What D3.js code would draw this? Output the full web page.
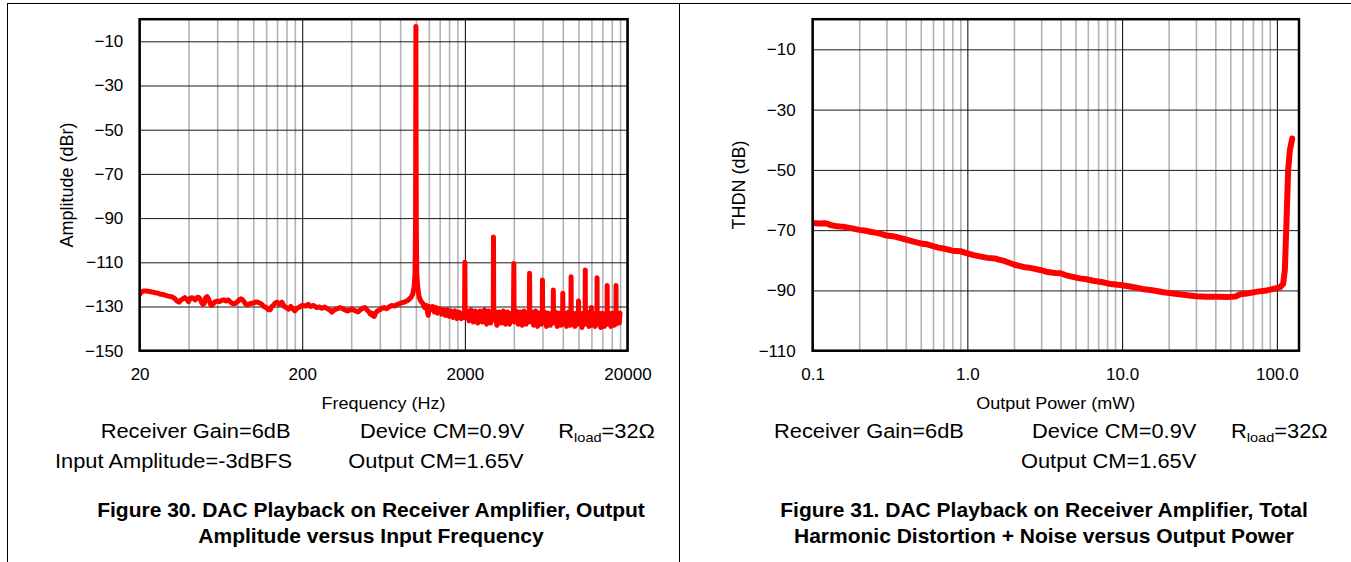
<!DOCTYPE html>
<html>
<head>
<meta charset="utf-8">
<script src="https://cdn.jsdelivr.net/npm/d3@7"></script>
<style>
  html, body { margin: 0; padding: 0; background: #fff; }
  svg { display: block; }
</style>
</head>
<body>
<svg id="chart" width="1351" height="562"></svg>
<script>
// ---------------- DATA ----------------
// Figure 30: output amplitude vs input frequency (FFT trace)
const freqHz = [
  20, 20.5, 21, 22, 23, 24, 25, 26, 27, 28, 29, 30, 31, 32, 33, 34, 35, 36, 37, 38, 39, 40,
  41, 42, 43, 44, 45, 46, 47, 48, 49, 50, 51, 52, 53, 54, 55, 56, 58, 60, 62, 64, 66, 68, 70,
  72, 74, 76, 78, 80, 82, 84, 86, 88, 90, 92, 95, 98, 100, 103, 106, 110, 113, 116, 120, 124,
  127, 130, 133, 136, 140, 145, 150, 155, 160, 165, 170, 175, 180, 185, 190, 195, 200, 210,
  218, 225, 235, 245, 255, 264, 275, 285, 295, 304, 315, 330, 340, 350, 365, 380, 395, 403,
  420, 440, 455, 470, 486, 500, 515, 525, 535, 545, 555, 565, 580, 600, 617, 640, 660, 690,
  710, 740, 770, 800, 818, 850, 880, 900, 930, 955, 975, 988, 995, 999, 1000, 1001, 1005,
  1012, 1025, 1045, 1070, 1100,
  1130, 1160, 1190, 1210, 1240, 1270, 1300, 1330, 1360, 1400, 1440, 1480, 1520, 1560, 1600,
  1640, 1690, 1740, 1790, 1840, 1900, 1950, 1990, 2000, 2010, 2060, 2120, 2180, 2250, 2320,
  2400, 2480, 2560, 2640, 2720, 2800, 2880, 2960, 2990, 3000, 3010, 3060, 3150, 3250, 3350,
  3450, 3550, 3650, 3760, 3870, 3980, 4000, 4020, 4130, 4250, 4380, 4500, 4630, 4760, 4880,
  4980, 5000, 5020, 5150, 5300, 5450, 5600, 5750, 5900, 5980, 6000, 6020, 6180, 6350, 6520,
  6700, 6880, 6980, 7000, 7020, 7200, 7400, 7600, 7800, 7980, 8000, 8020, 8230, 8450, 8680,
  8900, 8980, 9000, 9020, 9250, 9500, 9750, 9980, 10000, 10020, 10250, 10500, 10750, 10980,
  11000, 11020, 11300, 11600, 11900, 11980, 12000, 12020, 12350, 12650, 12980, 13000, 13020,
  13350, 13700, 14050, 14400, 14700, 14980, 15000, 15020, 15400, 15800, 16200, 16600, 16980,
  17000, 17020, 17400, 17800, 18000
];
const amplitudeDbr = [
  -124.5, -123.5, -123, -123, -123.2, -123.5, -123.8, -124, -124.5, -124.6, -125, -125.3,
  -125.5, -125.8, -126.5, -127.5, -128, -127, -126.5, -126, -126.8, -127.8,
  -126.2, -126, -126.5, -127, -126, -125.8, -126.5, -128, -129, -128.5, -126, -125.5, -126.5,
  -128, -129.5, -129.2, -128, -127.5, -127.8, -127.2, -127, -127.5, -127,
  -127.8, -128.5, -128.8, -128.5, -127.8, -127, -126.5, -127, -128, -129, -129.3, -128.8,
  -128.5, -128.5, -128, -128, -128.5, -129, -130, -130.5, -131.5,
  -131.5, -130, -129.5, -128.5, -128, -129, -128, -130, -130.5, -131.2, -130, -131, -132,
  -131, -130.5, -130, -129.5, -129.8,
  -129, -130, -129.5, -130.5, -130.2, -130.8, -130.2, -131, -131.5, -132.5, -131.5, -131,
  -130.5, -130.8, -131.5, -132, -131.5, -131.2,
  -131.8, -132.5, -131.5, -130.8, -130.5, -131.5, -132.5, -133.5, -133, -134.2, -134.5, -133,
  -132, -131.5, -130.8, -130.5, -131, -130,
  -129.5, -129.8, -129, -128.6, -128.3, -128, -127.5, -127, -126, -124.5, -121, -115, -90,
  -30, -3.3, -30, -90,
  -115, -121, -125.5, -127.5, -128.5,
  -130.5, -129.5, -134, -130, -131.5, -130, -132.5, -130.5, -133, -131, -133.5, -131.5, -134,
  -131.5, -134.5,
  -132, -135, -132, -135.5, -132.5, -135.5, -133, -135, -110, -135, -132, -136.5, -131.5,
  -137, -132,
  -137.5, -132, -137, -131.5, -138, -132, -137.5, -134, -135, -98.5, -136, -132, -138.5,
  -132.5, -137.5,
  -132, -138, -132.5, -138, -133, -136, -110.5, -137, -132, -138, -132.5, -138.5, -132, -138,
  -133,
  -135, -115, -137, -132.5, -138.5, -132, -139, -133, -138, -135, -118, -137.5, -132.5, -139,
  -133,
  -138.5, -133, -136, -122.5, -137.5, -132.5, -139, -133, -138.5, -135, -124, -138, -133,
  -139, -132.5,
  -138.5, -135, -116.5, -138, -133, -139, -133, -136, -127.5, -138, -133, -139.5, -133, -136,
  -113.5, -138, -132.5, -139, -133, -135, -130.5, -138.5, -133, -139, -135, -117, -138,
  -133, -139.5, -133, -139, -133.5, -136, -120.5, -138, -133, -139, -133, -138.5, -135,
  -120.5, -138, -133, -137.5, -133
];
const freqTicks = [20, 200, 2000, 20000];
const freqTickLabels = ["20", "200", "2000", "20000"];
const ampTicks = [-150, -130, -110, -90, -70, -50, -30, -10];

// Figure 31: THD+N vs output power
const powerMw = [
  0.1, 0.11, 0.12, 0.125, 0.13, 0.14, 0.15, 0.16, 0.18, 0.2, 0.22, 0.24, 0.26, 0.28, 0.3,
  0.33, 0.36, 0.4, 0.45, 0.5, 0.55, 0.6, 0.65, 0.7, 0.8, 0.9, 1.0, 1.1, 1.2, 1.35, 1.5, 1.6,
  1.75, 2.0, 2.3, 2.6, 3.0, 3.3, 3.7, 4.0, 4.3, 4.8, 5.3, 5.9, 6.5, 7.5, 8.5, 10, 11.5, 13.5,
  16, 18.5, 22, 25.5, 30, 35, 42, 48, 54, 58, 64, 75, 86, 95, 104.5, 109.8, 112.6, 115.5,
  118.3, 121.3, 125.6
];
const thdnDb = [
  -67.6, -67.8, -67.7, -67.9, -68.3, -68.6, -68.8, -68.9, -69.4, -69.9, -70.2, -70.6, -70.9,
  -71.3, -71.8, -72.0, -72.5, -73.1, -73.8, -74.4, -74.7, -75.3, -75.8, -76.1, -76.8, -77.0,
  -77.7, -78.3, -78.7, -79.2, -79.4, -79.8, -80.3, -81.4, -82.2, -82.6, -83.3, -83.9, -84.2,
  -84.3, -84.9, -85.5, -86.0, -86.3, -86.8, -87.3, -87.9, -88.3, -88.8, -89.5, -90.0, -90.6,
  -91.1, -91.5, -91.9, -92.1, -92.1, -92.2, -92.0, -91.3, -91.0, -90.4, -90.0, -89.5, -89.0,
  -87.8, -83.3, -66.7, -50, -43.5, -39.6
];
const powerTicks = [0.1, 1, 10, 100];
const powerTickLabels = ["0.1", "1.0", "10.0", "100.0"];
const thdnTicks = [-110, -90, -70, -50, -30, -10];

// ---------------- DRAWING ----------------
const FONT = "'Liberation Sans', Arial, Helvetica, sans-serif";
const svg = d3.select("#chart");

// outer page frame
svg.append("line").attr("x1", 7).attr("x2", 1351).attr("y1", 3.5).attr("y2", 3.5)
  .attr("stroke", "#000").attr("stroke-width", 1);
svg.append("line").attr("x1", 7.5).attr("x2", 7.5).attr("y1", 3).attr("y2", 562)
  .attr("stroke", "#000").attr("stroke-width", 1);
svg.append("line").attr("x1", 679.5).attr("x2", 679.5).attr("y1", 3).attr("y2", 562)
  .attr("stroke", "#000").attr("stroke-width", 1);

function addText(x, y, str, o) {
  const g = svg.append("g")
    .attr("transform", `translate(${x},${y}) scale(${o.sx || 1},1)`);
  const t = g.append("text")
    .attr("font-family", FONT)
    .attr("font-size", o.size)
    .attr("font-weight", o.weight || "normal")
    .attr("text-anchor", o.anchor || "start")
    .attr("fill", "#000");
  if (str !== null) t.text(str);
  return t;
}

function rload(x, y) {
  const t = addText(x, y, null, { size: 19.5, sx: 1.12 });
  t.append("tspan").text("R");
  t.append("tspan").attr("font-size", 13).attr("dy", 4).text("load");
  t.append("tspan").attr("dy", -4).text("=32\u03A9");
}

function panel(cfg) {
  const x = d3.scaleLog().domain(cfg.xDomain).range([cfg.x0, cfg.x1]);
  const y = d3.scaleLinear().domain(cfg.yDomain).range([cfg.y1, cfg.y0]);
  const h = cfg.y1 - cfg.y0, w = cfg.x1 - cfg.x0;

  // minor vertical grid
  const minors = [];
  cfg.xTicks.forEach(t => { for (let k = 2; k <= 9; k++) minors.push(t * k); });
  const minorVals = minors.filter(v => v < cfg.xDomain[1]);
  const gMinor = svg.append("g").attr("transform", `translate(0,${cfg.y1})`)
    .call(d3.axisBottom(x).tickValues(minorVals).tickSize(-h).tickFormat(""));
  gMinor.select(".domain").remove();
  gMinor.selectAll("line").attr("stroke", "#b4b4b4").attr("stroke-width", 1.6);

  // major vertical grid
  const gMajor = svg.append("g").attr("transform", `translate(0,${cfg.y1})`)
    .call(d3.axisBottom(x).tickValues(cfg.xTicks).tickSize(-h).tickFormat(""));
  gMajor.select(".domain").remove();
  gMajor.selectAll("line").attr("stroke", "#000").attr("stroke-width", 1);

  // horizontal grid
  const gH = svg.append("g").attr("transform", `translate(${cfg.x0},0)`)
    .call(d3.axisLeft(y).tickValues(cfg.yTicks).tickSize(-w).tickFormat(""));
  gH.select(".domain").remove();
  gH.selectAll("line").attr("stroke", "#1a1a1a").attr("stroke-width", 1);

  // data line
  const clipId = "clip" + cfg.id;
  svg.append("clipPath").attr("id", clipId).append("rect")
    .attr("x", cfg.x0).attr("y", cfg.y0).attr("width", w).attr("height", h);
  const pts = cfg.xs.map((v, i) => [v, cfg.ys[i]]);
  svg.append("path")
    .attr("clip-path", `url(#${clipId})`)
    .attr("d", d3.line().x(d => x(d[0])).y(d => y(d[1]))(pts))
    .attr("fill", "none").attr("stroke", "#ff0000")
    .attr("stroke-width", cfg.lw).attr("stroke-linejoin", "round").attr("stroke-linecap", "round");

  // border
  svg.append("rect").attr("x", cfg.x0).attr("y", cfg.y0).attr("width", w).attr("height", h)
    .attr("fill", "none").attr("stroke", "#000").attr("stroke-width", 2.5);

  // tick labels (x)
  const ax = svg.append("g").attr("transform", `translate(0,${cfg.y1})`)
    .call(d3.axisBottom(x).tickValues(cfg.xTicks).tickSize(0).tickPadding(17.2)
      .tickFormat((d, i) => cfg.xLabels[i]));
  ax.select(".domain").remove();
  ax.selectAll("text").attr("font-family", FONT).attr("font-size", 17).attr("fill", "#000");

  // tick labels (y)
  const ay = svg.append("g").attr("transform", `translate(${cfg.x0},0)`)
    .call(d3.axisLeft(y).tickValues(cfg.yTicks).tickSize(0).tickPadding(cfg.yPad)
      .tickFormat(d => "\u2212" + Math.abs(d)));
  ay.select(".domain").remove();
  ay.selectAll("text").attr("font-family", FONT).attr("font-size", 17).attr("fill", "#000");

  // axis titles
  addText((cfg.x0 + cfg.x1) / 2, 409.3, cfg.xTitle, { size: 17, sx: 1.06, anchor: "middle" });
  svg.append("text")
    .attr("transform", `translate(${cfg.yTitleX},${(cfg.y0 + cfg.y1) / 2}) rotate(-90)`)
    .attr("font-family", FONT).attr("font-size", 18).attr("text-anchor", "middle")
    .attr("fill", "#000").text(cfg.yTitle);
}

panel({
  id: "L", xDomain: [20, 20000], yDomain: [-150, 0],
  x0: 139.6, x1: 627.5, y0: 19.2, y1: 350.7,
  xTicks: freqTicks, xLabels: freqTickLabels, yTicks: ampTicks,
  xs: freqHz, ys: amplitudeDbr, lw: 5, yPad: 16.3,
  xTitle: "Frequency (Hz)", yTitle: "Amplitude (dBr)", yTitleX: 72.5
});
panel({
  id: "R", xDomain: [0.1, 139], yDomain: [-110, 0],
  x0: 812.6, x1: 1299, y0: 19.2, y1: 350.7,
  xTicks: powerTicks, xLabels: powerTickLabels, yTicks: thdnTicks,
  xs: powerMw, ys: thdnDb, lw: 6, yPad: 16.9,
  xTitle: "Output Power (mW)", yTitle: "THDN (dB)", yTitleX: 745
});

// annotations - left
const ann = { size: 19.5, sx: 1.12 };
addText(100.7, 438.3, "Receiver Gain=6dB", ann);
addText(360, 438.3, "Device CM=0.9V", ann);
rload(558.3, 438.3);
addText(55, 467.7, "Input Amplitude=-3dBFS", ann);
addText(348.3, 467.7, "Output CM=1.65V", ann);
// annotations - right
addText(774, 438.3, "Receiver Gain=6dB", ann);
addText(1032, 438.3, "Device CM=0.9V", ann);
rload(1231, 438.3);
addText(1021, 467.7, "Output CM=1.65V", ann);

// captions
const cap = { size: 21, weight: "bold", anchor: "middle" };
addText(371, 516.7, "Figure 30. DAC Playback on Receiver Amplifier, Output", cap);
addText(371, 543.3, "Amplitude versus Input Frequency", cap);
addText(1044, 516.7, "Figure 31. DAC Playback on Receiver Amplifier, Total", cap);
addText(1044, 543.3, "Harmonic Distortion + Noise versus Output Power", cap);
</script>
</body>
</html>
